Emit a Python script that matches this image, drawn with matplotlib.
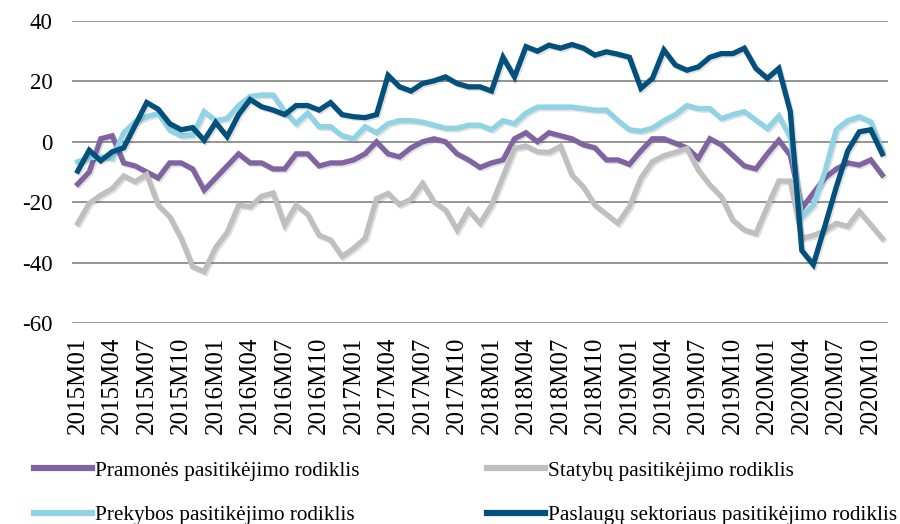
import matplotlib
matplotlib.use("Agg")
import matplotlib.pyplot as plt
import matplotlib.patheffects as pe
import numpy as np

plt.rcParams['font.family'] = ['Liberation Serif', 'DejaVu Serif']
plt.rcParams['axes.unicode_minus'] = False

# ---- data (2015M01 .. 2020M11) ----
months = [f"{y}M{m:02d}" for y in range(2015, 2021) for m in range(1, 13)][:71]

pramones = [-14, -10, 1, 2, -7, -8, -10, -12, -7, -7, -9, -16,
            -12, -8, -4, -7, -7, -9, -9, -4, -4, -8, -7, -7,
            -6, -4, 0, -4, -5, -2, 0, 1, 0, -4, -6, -8.5,
            -7, -6, 1, 3, 0, 3, 2, 1, -1, -2, -6, -6,
            -7.5, -3, 1, 1, -0.5, -2, -5.5, 1, -1, -4.5, -8, -9,
            -4, 0.5, -4.5, -22, -17, -12, -9, -7, -7.7, -6, -11]

statybu = [-27, -20.4, -17.7, -15.5, -11.3, -13.2, -10.8, -21, -24.8, -32, -41.4, -43,
           -35, -30, -21, -21.5, -18, -17, -27.6, -21, -24, -31, -32.5, -38,
           -35.3, -32, -18.8, -17.1, -20.8, -19, -13.8, -19.9, -22.6, -29.2, -22.6, -27,
           -21, -11.5, -2.2, -1.4, -3.3, -3.5, -1.5, -11, -15, -21, -24, -27,
           -21.5, -12, -6.6, -4.6, -3.5, -2.2, -9.4, -14.3, -18.2, -26, -29.2, -30.4,
           -21.5, -13, -13, -32, -31, -29.5, -27, -28, -23, -27.5, -32]

prekybos = [-6.6, -5.3, -5, -5.5, 3, 6.6, 8.3, 9.4, 3.9, 2, 2.2, 10,
            7, 7.7, 12, 15, 15.5, 15.5, 10, 6, 9.5, 5, 5, 2,
            1, 5, 3, 6, 7, 7, 6.5, 5.5, 4.5, 4.5, 5.5, 5.5,
            4, 7, 6, 9.5, 11.5, 11.5, 11.5, 11.5, 11, 10.5, 10.5, 7,
            4, 3.5, 4.5, 7, 9, 12, 11, 11, 7.7, 9, 10, 7.2,
            4.4, 8.5, 1.5, -25, -21, -10, 4, 7, 8.3, 6.6, -3]

paslaugu = [-9.7, -2.8, -6.3, -3.3, -2, 5.5, 13, 10.8, 6, 4, 4.7, 0.5,
            6.4, 1.7, 9, 14, 11.6, 10.5, 9, 12, 12, 10.5, 13, 9,
            8.3, 8, 9, 22, 18.2, 16.8, 19.3, 20.2, 21.5, 19.3, 18.2, 18.2,
            16.8, 28, 21.5, 31.5, 30, 32, 31, 32.2, 31, 28.7, 29.8, 29,
            28, 17.7, 21, 30.4, 25.4, 23.7, 24.8, 28, 29.2, 29.2, 31, 24.3,
            21, 24.3, 10, -36, -40.7, -28, -15, -3, 3.3, 4, -4]

labels = ["Pramonės pasitikėjimo rodiklis", "Statybų pasitikėjimo rodiklis",
          "Prekybos pasitikėjimo rodiklis", "Paslaugų sektoriaus pasitikėjimo rodiklis"]
colors = ["#8064A2", "#BFBFBF", "#8FD3E4", "#04507C"]

yticks = [-60, -40, -20, 0, 20, 40]
ytick_labels = ["-60", "-40", "-20", "0", "20", "40"]
xtick_pos = list(range(0, 71, 3))
xtick_labels = [months[i] for i in xtick_pos]

# ---- figure ----
W, H = 900, 524
fig = plt.figure(figsize=(W / 100, H / 100), dpi=100)
ax = fig.add_axes([72 / W, 1 - 323 / H, (888 - 72) / W, (323 - 21) / H])

x = np.arange(len(months))
shadow = [pe.SimpleLineShadow(offset=(1.2, -1.2), shadow_color='#000000', alpha=0.12), pe.Normal()]
series = [pramones, statybu, prekybos, paslaugu]
lines = []
for s, c, l in zip(series, colors, labels):
    ln, = ax.plot(x, s, color=c, lw=3.8, label=l, solid_joinstyle='miter',
                  path_effects=shadow, zorder=3)
    lines.append(ln)

ax.set_xlim(-0.5, len(months) - 0.5)
ax.set_ylim(-60, 40)
ax.set_yticks(yticks)
ax.set_yticklabels(ytick_labels, fontsize=16.5)
ax.set_xticks(xtick_pos)
ax.set_xticklabels(xtick_labels, rotation=90, fontsize=18)
ax.tick_params(axis='both', length=0)
ax.tick_params(axis='x', pad=10)
ax.tick_params(axis='y', pad=14)
ax.yaxis.grid(True, color='#8C8C8C', lw=1.3)
ax.set_axisbelow(True)
for sp in ax.spines.values():
    sp.set_visible(False)

leg_kw = dict(frameon=False, fontsize=15.3, handlelength=2.75, handletextpad=0.12,
              labelspacing=1.15, borderpad=0, borderaxespad=0, loc='upper left')
l1 = fig.legend([lines[0], lines[2]], [labels[0], labels[2]],
                bbox_to_anchor=(34 / W, 1 - 461 / H), **leg_kw)
l2 = fig.legend([lines[1], lines[3]], [labels[1], labels[3]],
                bbox_to_anchor=(487 / W, 1 - 461 / H), **leg_kw)
for lg in (l1, l2):
    for h in lg.legend_handles:
        h.set_linewidth(4.5)
        h.set_path_effects([])

fig.savefig("out.png", dpi=100)
